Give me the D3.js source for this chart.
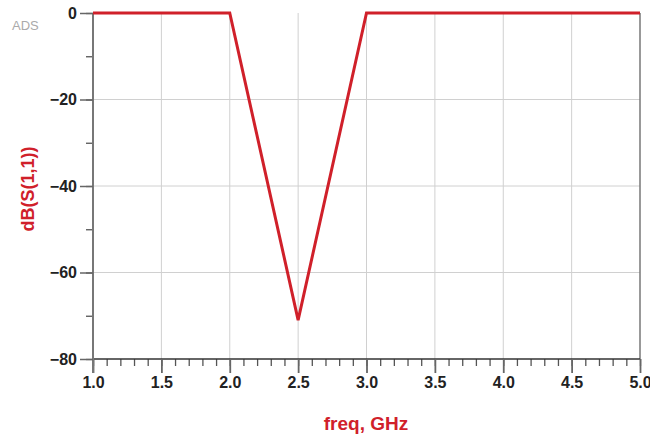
<!DOCTYPE html>
<html>
<head>
<meta charset="utf-8">
<script src="https://cdn.jsdelivr.net/npm/d3@7"></script>
<style>
  body { margin: 0; background: #fff; overflow: hidden; }
  text { font-family: "Liberation Sans", Arial, sans-serif; }
</style>
</head>
<body>
<script>
// S11 response, freq in GHz, dB
var freq = [1.0, 2.0, 2.5, 3.0, 5.0];
var s11 = [0, 0, -71, 0, 0];
var xTicks = [1.0, 1.5, 2.0, 2.5, 3.0, 3.5, 4.0, 4.5, 5.0];
var yTicks = [0, -20, -40, -60, -80];

var W = 650, H = 436;
var pL = 93, pR = 640, pT = 13, pB = 359;
var red = "#d0202a";

var svg = d3.select("body").append("svg").attr("width", W).attr("height", H);

var x = d3.scaleLinear().domain([1, 5]).range([pL, pR]);
var y = d3.scaleLinear().domain([-80, 0]).range([pB, pT]);

// grid
svg.selectAll("line.vgrid").data(xTicks.slice(1, -1)).enter().append("line")
  .attr("class", "vgrid")
  .attr("x1", function (d) { return x(d); }).attr("x2", function (d) { return x(d); })
  .attr("y1", pT).attr("y2", pB)
  .attr("stroke", "#d0d0d0").attr("stroke-width", 1);
svg.selectAll("line.hgrid").data(yTicks.slice(1, -1)).enter().append("line")
  .attr("class", "hgrid")
  .attr("x1", pL).attr("x2", pR)
  .attr("y1", function (d) { return y(d); }).attr("y2", function (d) { return y(d); })
  .attr("stroke", "#d0d0d0").attr("stroke-width", 1);

// right frame side
svg.append("line").attr("x1", pR).attr("x2", pR).attr("y1", pT).attr("y2", pB)
  .attr("stroke", "#777").attr("stroke-width", 1.5);

// x axis: minor then major ticks
var xMinor = d3.range(10, 51).map(function (d) { return d / 10; });
var xAxisMinor = d3.axisBottom(x).tickValues(xMinor).tickSize(7).tickFormat("");
var gxm = svg.append("g").attr("transform", "translate(0," + pB + ")").call(xAxisMinor);
gxm.select(".domain").remove();
gxm.selectAll("line").attr("stroke", "#555").attr("stroke-width", 1.3);

var xAxis = d3.axisBottom(x).tickValues(xTicks).tickSize(14).tickPadding(4)
  .tickFormat(d3.format(".1f"));
var gx = svg.append("g").attr("transform", "translate(0," + pB + ")").call(xAxis);
gx.select(".domain").attr("stroke", "#333").attr("stroke-width", 1.5).attr("d", "M" + pL + ",0H" + pR);
gx.selectAll("line").attr("stroke", "#666").attr("stroke-width", 1.8);
gx.selectAll("text").attr("font-size", 16).attr("font-weight", "bold").attr("fill", "#222")
  .attr("font-family", "'Liberation Sans', Arial, sans-serif");

// y axis
var yMinor = d3.range(-80, 1, 10);
var yAxisMinor = d3.axisLeft(y).tickValues(yMinor).tickSize(7).tickFormat("");
var gym = svg.append("g").attr("transform", "translate(" + pL + ",0)").call(yAxisMinor);
gym.select(".domain").remove();
gym.selectAll("line").attr("stroke", "#555").attr("stroke-width", 1.3);

var yAxis = d3.axisLeft(y).tickValues(yTicks).tickSize(13).tickPadding(3)
  .tickFormat(d3.format("d"));
var gy = svg.append("g").attr("transform", "translate(" + pL + ",0)").call(yAxis);
gy.select(".domain").attr("stroke", "#777").attr("stroke-width", 2).attr("d", "M0," + pT + "V" + (pB + 14));
gy.selectAll("line").attr("stroke", "#666").attr("stroke-width", 1.5);
gy.selectAll("text").attr("font-size", 16).attr("font-weight", "bold").attr("fill", "#222")
  .attr("font-family", "'Liberation Sans', Arial, sans-serif");

// data line
var line = d3.line().x(function (d, i) { return x(freq[i]); }).y(function (d) { return y(d); });
svg.append("path").datum(s11).attr("d", line)
  .attr("fill", "none").attr("stroke", red).attr("stroke-width", 3).attr("stroke-linejoin", "miter");

// labels
svg.append("text").attr("x", 366).attr("y", 430).attr("text-anchor", "middle")
  .attr("font-size", 19).attr("font-weight", "bold").attr("fill", red).text("freq, GHz");
svg.append("text").attr("transform", "translate(34,189) rotate(-90)").attr("text-anchor", "middle")
  .attr("font-size", 18).attr("font-weight", "bold").attr("fill", red).text("dB(S(1,1))");
svg.append("text").attr("x", 12).attr("y", 30)
  .attr("font-size", 13).attr("fill", "#aaa").text("ADS");
</script>
</body>
</html>
